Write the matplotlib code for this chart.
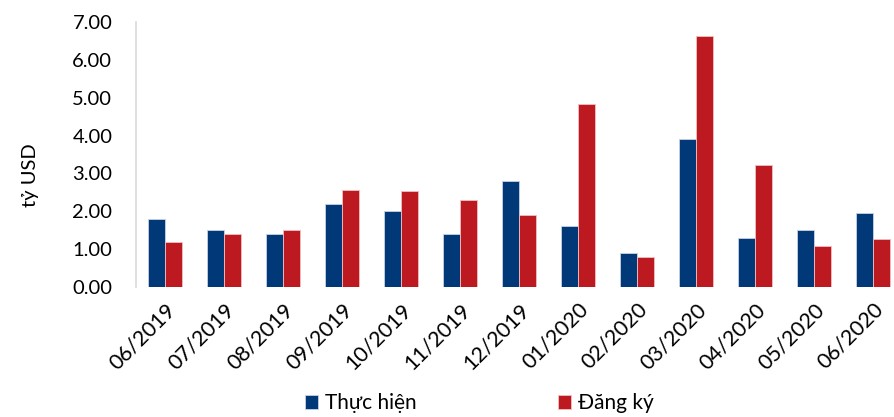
import matplotlib.pyplot as plt
import numpy as np

plt.rcParams['font.family'] = ['Lato', 'DejaVu Sans']

# FDI theo tháng (tỷ USD)
thang = ['06/2019', '07/2019', '08/2019', '09/2019', '10/2019', '11/2019', '12/2019',
         '01/2020', '02/2020', '03/2020', '04/2020', '05/2020', '06/2020']
thuc_hien = [1.80, 1.50, 1.40, 2.20, 2.00, 1.40, 2.80, 1.60, 0.89, 3.91, 1.29, 1.50, 1.95]
dang_ky = [1.20, 1.40, 1.50, 2.56, 2.54, 2.31, 1.90, 4.84, 0.80, 6.62, 3.21, 1.09, 1.27]

xanh = '#003878'
do = '#BC1A20'

fig = plt.figure(figsize=(8.94, 4.17), dpi=100)
ax = fig.add_axes([0.152, 0.312, 0.848, 0.635])

x = np.arange(len(thang))
w = 0.29
ax.bar(x - w / 2, thuc_hien, w, color=xanh, edgecolor='#c9d3e3', linewidth=0.6, label='Thực hiện')
ax.bar(x + w / 2, dang_ky, w, color=do, edgecolor='#f0c0c2', linewidth=0.6, label='Đăng ký')

ax.set_xlim(-0.5, 12.35)
ax.set_ylim(0, 7)
ax.set_yticks(np.arange(0, 7.5, 1))
ax.set_yticklabels(['%.2f' % v for v in np.arange(0, 7.5, 1)], fontsize=14.5)
ax.set_xticks(x)
ax.set_xticklabels(thang, rotation=45, ha='right', rotation_mode='anchor', fontsize=15.5)
ax.tick_params(length=0)
ax.tick_params(axis='y', pad=17)
ax.tick_params(axis='x', pad=9)

for s in ['top', 'right', 'bottom']:
    ax.spines[s].set_visible(False)
ax.spines['left'].set_color('#d9d9d9')
ax.spines['left'].set_linewidth(1.2)

fig.text(0.034, 0.58, 'tỷ USD', rotation=90, fontsize=14.5, ha='center', va='center')

fig.legend(loc='center', bbox_to_anchor=(0.536, 0.033), ncol=2, frameon=False,
           fontsize=15, handlelength=0.65, handleheight=0.65, handletextpad=0.3,
           columnspacing=6.8)

fig.savefig('out.png', dpi=100)
